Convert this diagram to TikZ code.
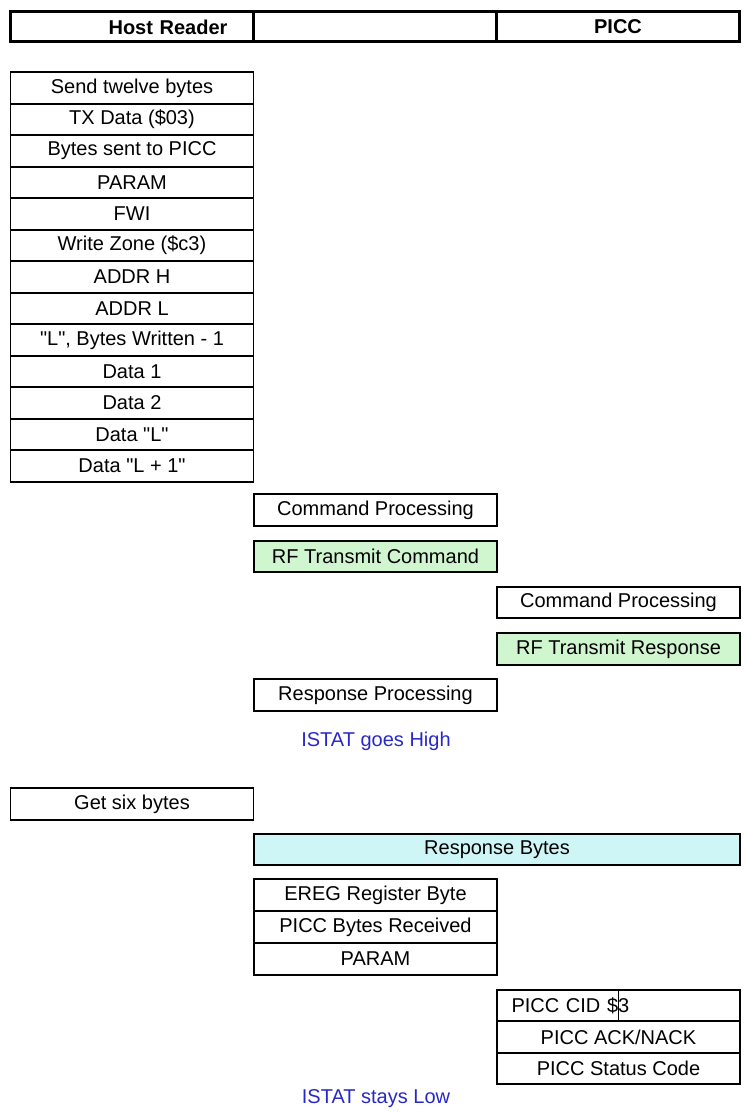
\documentclass[tikz,border=0pt]{standalone}
\usepackage{fontspec}
\setmainfont{Liberation Sans}
\usepackage{tikz}
\usetikzlibrary{positioning}
\definecolor{rfgreen}{RGB}{208,246,208}
\definecolor{rxcyan}{RGB}{206,246,246}
\definecolor{istatblue}{RGB}{40,40,200}

\begin{document}
\begin{tikzpicture}[
  x=0.5pt, y=-0.5pt,
  node distance=0pt,
  hdr/.style={draw, line width=1.5pt, outer sep=0pt, minimum width=121.5pt, minimum height=15pt, font=\bfseries},
  cell/.style={draw, line width=0.9pt, outer sep=0pt, minimum width=121.5pt, minimum height=15.75pt, inner sep=1pt},
  rfbox/.style={cell, fill=rfgreen},
  rxbox/.style={cell, fill=rxcyan, minimum width=243pt},
  note/.style={text=istatblue}
]
\useasboundingbox (0,0) rectangle (746,1112);

\node[hdr, text width=95.5pt, align=right] (host) at (132,27) {Host Reader};
\node[hdr, right=of host] (mid) {};
\node[hdr, right=of mid] (picc) {PICC};

\node[cell] (send) at (132,88) {Send twelve bytes};
\node[cell, below=of send] (tx) {TX Data (\$03)};
\node[cell, below=of tx] (sent) {Bytes sent to PICC};
\node[cell, below=of sent] (param) {PARAM};
\node[cell, below=of param] (fwi) {FWI};
\node[cell, below=of fwi] (zone) {Write Zone (\$c3)};
\node[cell, below=of zone] (addrh) {ADDR H};
\node[cell, below=of addrh] (addrl) {ADDR L};
\node[cell, below=of addrl] (len) {\textquotedbl L\textquotedbl, Bytes Written - 1};
\node[cell, below=of len] (dataa) {Data 1};
\node[cell, below=of dataa] (datab) {Data 2};
\node[cell, below=of datab] (datal) {Data \textquotedbl L\textquotedbl};
\node[cell, below=of datal] (datam) {Data \textquotedbl L + 1\textquotedbl};

\node[cell, minimum height=16pt] (hostcmd) at (375.5,510) {Command Processing};
\node[rfbox] (rfcmd) at (375.5,556.5) {RF Transmit Command};
\node[cell] (picccmd) at (618.5,602.5) {Command Processing};
\node[rfbox] (rfresp) at (618.5,649) {RF Transmit Response};
\node[cell, minimum height=16pt] (hostresp) at (375.5,695) {Response Processing};
\node[note] (high) at (376,741) {ISTAT goes High};

\node[cell, minimum height=16pt] (getsix) at (132,804) {Get six bytes};
\node[rxbox] (rxbytes) at (497,849.5) {Response Bytes};

\node[cell, minimum height=16pt] (ereg) at (375.5,895) {EREG Register Byte};
\node[cell, minimum height=16pt, below=of ereg] (rcvd) {PICC Bytes Received};
\node[cell, minimum height=16pt, below=of rcvd] (rparam) {PARAM};

\node[cell, text width=107pt, align=left] (cid) at (618.5,1005.5) {PICC CID \$3};
\node[cell, below=of cid] (ack) {PICC ACK/NACK};
\node[cell, below=of ack] (status) {PICC Status Code};
\draw[line width=0.6pt] (cid.north) -- (cid.south);

\node[note] (low) at (376,1099) {ISTAT stays Low};
\end{tikzpicture}
\end{document}
